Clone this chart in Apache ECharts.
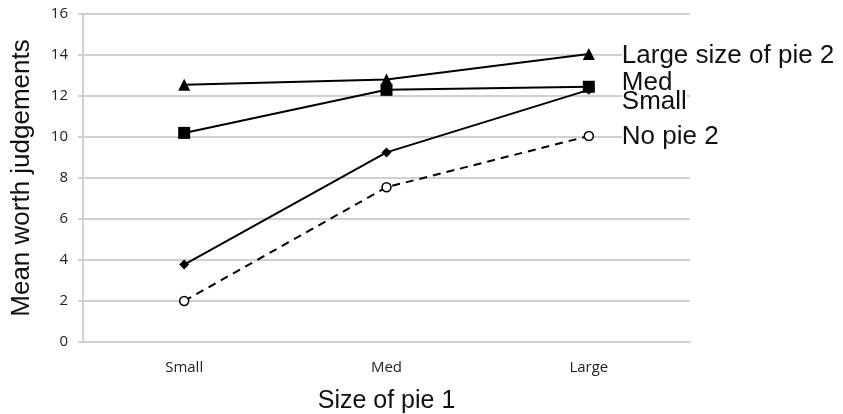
<!DOCTYPE html>
<html>
<head>
<meta charset="utf-8">
<script src="https://cdn.jsdelivr.net/npm/echarts@6/dist/echarts.min.js"></script>
<style>
  html, body { margin: 0; padding: 0; background: #fff; }
  #chart { width: 843px; height: 414px; }
</style>
</head>
<body>
<div id="chart"></div>
<script>
const categories = ['Small', 'Med', 'Large'];
const seriesNames = ['Large size of pie 2', 'Med', 'Small', 'No pie 2'];
const largePie2 = [12.55, 12.8, 14.05];
const medPie2 = [10.2, 12.3, 12.45];
const smallPie2 = [3.78, 9.25, 12.3];
const noPie2 = [2.0, 7.55, 10.05];
const yTicks = { min: 0, max: 16, interval: 2 };

const chart = echarts.init(document.getElementById('chart'));

const labelFont = { fontFamily: 'Liberation Sans', fontSize: 26, color: '#111' };

function lineSeries(name, data, symbol, size, labelOffsetY, dashed) {
  return {
    name,
    type: 'line',
    data,
    symbol,
    symbolSize: size,
    showAllSymbol: true,
    lineStyle: { color: '#000', width: 2, type: dashed ? [8, 6] : 'solid' },
    itemStyle: { color: dashed ? '#fff' : '#000', borderColor: '#000', borderWidth: dashed ? 1.5 : 0 },
    endLabel: {
      show: true,
      formatter: name,
      distance: 33,
      offset: [0, labelOffsetY],
      ...labelFont,
      lineHeight: 18,
      backgroundColor: '#fff'
    },
    z: 3
  };
}

chart.setOption({
  animation: false,
  backgroundColor: '#fff',
  grid: { left: 83, right: 153, top: 14, bottom: 72, outerBoundsMode: 'none' },
  xAxis: {
    type: 'category',
    data: categories,
    name: 'Size of pie 1',
    nameLocation: 'middle',
    nameGap: 47,
    nameTextStyle: { fontFamily: 'Liberation Sans', fontSize: 25, color: '#111' },
    axisLine: { lineStyle: { color: '#d0d0d0', width: 2 } },
    axisTick: { show: false },
    axisLabel: { fontFamily: 'Open Sans', fontSize: 15, color: '#222', margin: 18 }
  },
  yAxis: {
    type: 'value',
    min: yTicks.min,
    max: yTicks.max,
    interval: yTicks.interval,
    name: 'Mean worth judgements',
    nameLocation: 'middle',
    nameGap: 48,
    nameTextStyle: { fontFamily: 'Liberation Sans', fontSize: 26, color: '#111' },
    axisLine: { show: true, lineStyle: { color: '#d0d0d0', width: 2 } },
    axisTick: { show: true, length: 5, lineStyle: { color: '#d0d0d0', width: 2 } },
    axisLabel: { fontFamily: 'Open Sans', fontSize: 15, color: '#222', margin: 15 },
    splitLine: { lineStyle: { color: '#d0d0d0', width: 2 } }
  },
  series: [
    lineSeries(seriesNames[0], largePie2, 'triangle', 12, 2, false),
    lineSeries(seriesNames[1], medPie2, 'rect', 12, -4, false),
    lineSeries(seriesNames[2], smallPie2, 'diamond', 10, 12, false),
    lineSeries(seriesNames[3], noPie2, 'circle', 9, 1, true)
  ]
});
</script>
</body>
</html>
